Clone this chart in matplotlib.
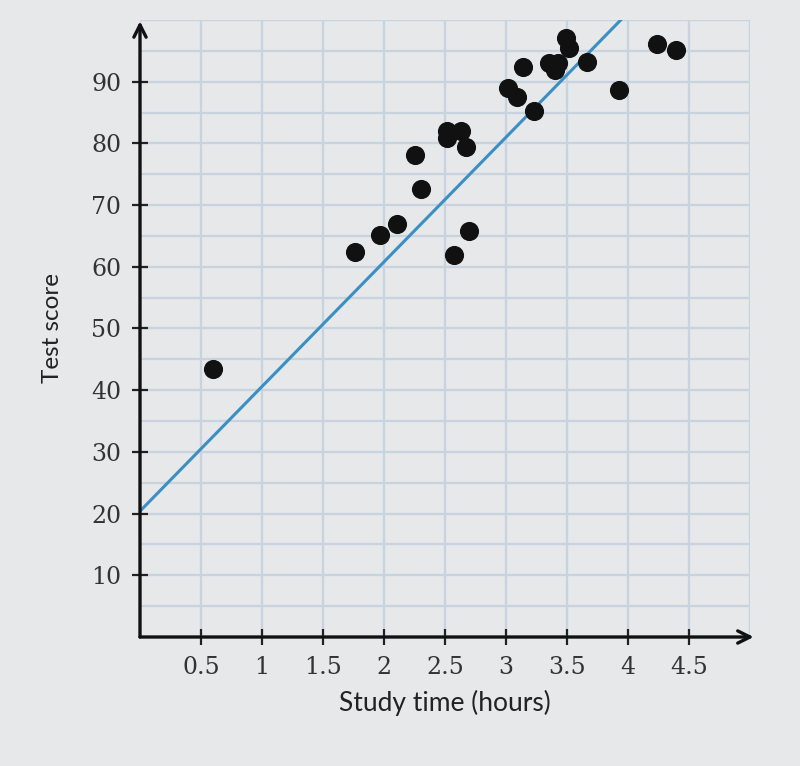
import matplotlib
matplotlib.use("Agg")
import matplotlib.pyplot as plt
import numpy as np

study_hours = [0.60, 1.76, 1.97, 2.11, 2.25, 2.30, 2.52, 2.52, 2.63, 2.67, 2.57, 2.70,
               3.02, 3.09, 3.14, 3.23, 3.35, 3.40, 3.43, 3.49, 3.52, 3.66, 3.93, 4.24, 4.39]
test_scores = [43.4, 62.4, 65.2, 66.9, 78.1, 72.6, 82.0, 80.9, 82.0, 79.4, 61.9, 65.8,
               89.0, 87.5, 92.4, 85.3, 93.0, 91.9, 93.0, 97.1, 95.5, 93.2, 88.7, 96.1, 95.1]
fit_intercept = 20.4
fit_slope = 20.2
x_ticks = [0.5, 1, 1.5, 2, 2.5, 3, 3.5, 4, 4.5]
x_tick_labels = ["0.5", "1", "1.5", "2", "2.5", "3", "3.5", "4", "4.5"]
y_ticks = [10, 20, 30, 40, 50, 60, 70, 80, 90]
y_tick_labels = ["10", "20", "30", "40", "50", "60", "70", "80", "90"]

bg = "#e6e8ea"
fig = plt.figure(figsize=(8, 7.66), dpi=100, facecolor=bg)
ax = fig.add_axes([0.175, 0.1684, 0.7625, 0.8055])
ax.set_facecolor(bg)
ax.set_xlim(0, 5)
ax.set_ylim(0, 100)

for s in ax.spines.values():
    s.set_visible(False)

ax.set_xticks(x_ticks)
ax.set_xticklabels(x_tick_labels)
ax.set_yticks(y_ticks)
ax.set_yticklabels(y_tick_labels)
ax.set_xticks(np.arange(0, 5.01, 0.5), minor=True)
ax.set_yticks(np.arange(0, 100.1, 5), minor=True)
ax.grid(which="both", color="#c9d3df", linewidth=1.6)
ax.tick_params(which="minor", length=0)
ax.set_axisbelow(True)

# axes with arrows
ax.annotate("", xy=(5.03, 0), xytext=(0, 0), xycoords="data",
            arrowprops=dict(arrowstyle="->", color="#111111", lw=2.4,
                            mutation_scale=22, shrinkA=0, shrinkB=0),
            annotation_clip=False, zorder=5)
ax.annotate("", xy=(0, 99.8), xytext=(0, 0), xycoords="data",
            arrowprops=dict(arrowstyle="->", color="#111111", lw=2.4,
                            mutation_scale=22, shrinkA=0, shrinkB=0),
            annotation_clip=False, zorder=5)

ax.tick_params(which="major", direction="inout", length=11, width=1.6,
               color="#222222", labelsize=17, labelcolor="#333333", pad=8)
for lab in ax.get_xticklabels() + ax.get_yticklabels():
    lab.set_family("DejaVu Serif")

# fit line
x_end = (100 - fit_intercept) / fit_slope
xl = np.array([0, x_end])
ax.plot(xl, fit_intercept + fit_slope * xl, color="#3b8fc2", lw=2.2, zorder=3)

ax.scatter(study_hours, test_scores, s=190, color="#111111", zorder=4, linewidths=0)

ax.set_xlabel("Study time (hours)", fontsize=19, family="Lato", color="#222222", labelpad=8)
ax.set_ylabel("Test score", fontsize=17.5, family="Lato", color="#222222", labelpad=20)

fig.savefig("out.png", dpi=100, facecolor=bg)
